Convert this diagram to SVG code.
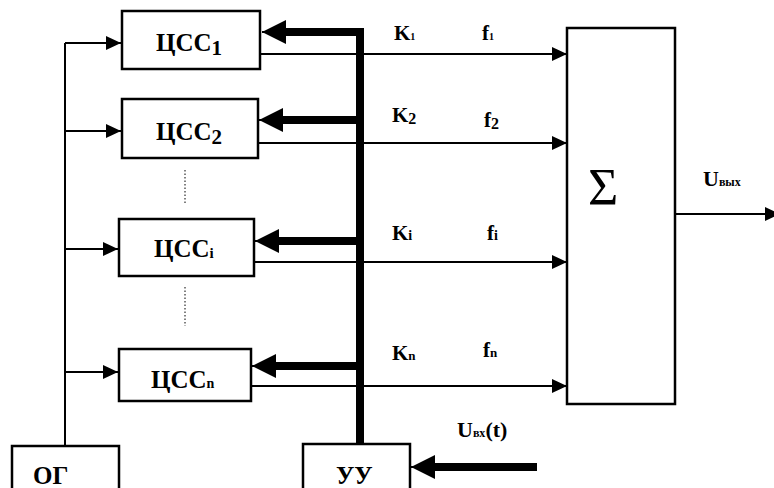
<svg xmlns="http://www.w3.org/2000/svg" width="774" height="488" viewBox="0 0 774 488">
<defs>
<style>
.box{fill:#fff;stroke:#000;stroke-width:2.5}
.thin{stroke:#000;stroke-width:2;fill:none}
.thick{stroke:#000;stroke-width:8;fill:none}
.dot{stroke:#000;stroke-width:1;stroke-dasharray:1.5,2;fill:none}
text{font-family:"Liberation Serif","Times New Roman",serif;font-weight:bold;fill:#000}
.lbl{font-size:25px}
.k{font-size:21px}
</style>
<marker id="ah" markerWidth="15" markerHeight="14" refX="15" refY="7" orient="auto" markerUnits="userSpaceOnUse">
<path d="M0,0 L15,7 L0,14 Z" fill="#000"/>
</marker>
<marker id="ahb" markerWidth="24" markerHeight="24" refX="24" refY="12" orient="auto" markerUnits="userSpaceOnUse">
<path d="M0,0 L24,12 L0,24 Z" fill="#000"/>
</marker>
</defs>

<g id="connectors">
<path class="thin" d="M65,446 V43"/>
<path class="thin" d="M65,43 H121" marker-end="url(#ah)"/>
<path class="thin" d="M65,131 H121" marker-end="url(#ah)"/>
<path class="thin" d="M65,249 H118" marker-end="url(#ah)"/>
<path class="thin" d="M65,372 H118" marker-end="url(#ah)"/>
<path class="thin" d="M258,54 H567" marker-end="url(#ah)"/>
<path class="thin" d="M258,143 H567" marker-end="url(#ah)"/>
<path class="thin" d="M254,262 H567" marker-end="url(#ah)"/>
<path class="thin" d="M251,386 H567" marker-end="url(#ah)"/>
<path class="thin" d="M675,214 H780" marker-end="url(#ah)"/>
<path class="thick" d="M360,444 V32 H270"/>
<path class="thin" d="M285,32 H262" marker-end="url(#ahb)"/>
<path class="thick" d="M360,120 H270"/>
<path class="thin" d="M280,120 H259" marker-end="url(#ahb)"/>
<path class="thick" d="M360,241 H268"/>
<path class="thin" d="M278,241 H255" marker-end="url(#ahb)"/>
<path class="thick" d="M360,366 H265"/>
<path class="thin" d="M275,366 H252" marker-end="url(#ahb)"/>
<path class="thick" d="M537,467 H425"/>
<path class="thin" d="M430,467 H411" marker-end="url(#ahb)"/>
<path class="dot" d="M185,170 V205"/>
<path class="dot" d="M185,287 V326"/>
</g>

<g id="css1">
<rect class="box" x="122" y="11" width="138" height="58"/>
<text class="lbl" x="156" y="51">ЦСС<tspan font-size="21" dy="4">1</tspan></text>
</g>
<g id="css2">
<rect class="box" x="122" y="99" width="136" height="59"/>
<text class="lbl" x="156" y="140">ЦСС<tspan font-size="21" dy="4">2</tspan></text>
</g>
<g id="cssi">
<rect class="box" x="119" y="219" width="135" height="57"/>
<text class="lbl" x="154" y="257">ЦСС<tspan font-size="15" dy="1">i</tspan></text>
</g>
<g id="cssn">
<rect class="box" x="119" y="349" width="132" height="52"/>
<text class="lbl" x="151" y="388">ЦСС<tspan font-size="14">n</tspan></text>
</g>
<g id="og">
<rect class="box" x="12" y="446" width="107" height="50"/>
<text class="lbl" x="33" y="484">ОГ</text>
</g>
<g id="uu">
<rect class="box" x="303" y="444" width="107" height="50"/>
<text class="lbl" x="336" y="484">УУ</text>
</g>
<g id="sum">
<rect class="box" x="567" y="28" width="108" height="376"/>
<text x="588" y="205" font-size="52" style="font-weight:normal">Σ</text>
</g>

<g id="labels">
<text class="k" x="394" y="40">K<tspan font-size="10">1</tspan></text>
<text class="k" x="482" y="40">f<tspan font-size="10">1</tspan></text>
<text class="k" x="392" y="122">K<tspan font-size="16" dy="2">2</tspan></text>
<text class="k" x="484" y="127">f<tspan font-size="16" dy="2">2</tspan></text>
<text class="k" x="392" y="240">K<tspan font-size="14">i</tspan></text>
<text class="k" x="487" y="240">f<tspan font-size="14">i</tspan></text>
<text class="k" x="392" y="360">K<tspan font-size="13">n</tspan></text>
<text class="k" x="483" y="357">f<tspan font-size="13">n</tspan></text>
<text x="703" y="186" font-size="22">U<tspan font-size="12">вых</tspan></text>
<text x="457" y="437" font-size="22">U<tspan font-size="12">вх</tspan>(t)</text>
</g>
</svg>
